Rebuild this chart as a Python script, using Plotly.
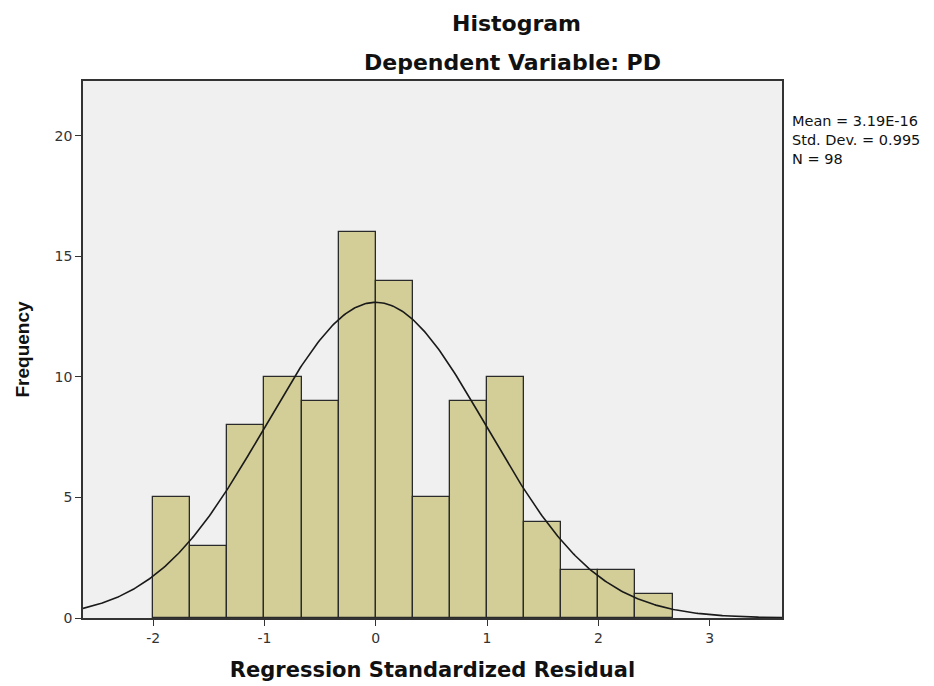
import numpy as np
import plotly.graph_objects as go

# histogram bins (left edges) and counts
bin_left = [-2.0, -5/3, -4/3, -1.0, -2/3, -1/3, 0.0, 1/3, 2/3, 1.0, 4/3, 5/3, 2.0, 7/3]
counts = [5, 3, 8, 10, 9, 16, 14, 5, 9, 10, 4, 2, 2, 1]
bin_width = 1/3

# summary stats shown on the chart
mean = 3.19e-16
std = 0.995
n = 98

x_ticks = [-2, -1, 0, 1, 2, 3]
x_labels = ['-2', '-1', '0', '1', '2', '3']
y_ticks = [0, 5, 10, 15, 20]

centers = [b + bin_width / 2 for b in bin_left]

# fitted normal curve scaled to the histogram
xs = np.linspace(-2.63, 3.65, 400)
ys = n * bin_width * np.exp(-0.5 * ((xs - mean) / std) ** 2) / (std * np.sqrt(2 * np.pi))

fig = go.Figure()
fig.add_trace(go.Bar(x=centers, y=counts, width=bin_width,
                     marker=dict(color='#D3CE98', line=dict(color='#2a2a2a', width=1.3)),
                     showlegend=False))
fig.add_trace(go.Scatter(x=xs, y=ys, mode='lines',
                         line=dict(color='#1a1a1a', width=1.6), showlegend=False))

wide = 'DejaVu Sans, Verdana, sans-serif'
arial = 'Liberation Sans, Arial, sans-serif'
fig.update_layout(
    width=934, height=686,
    margin=dict(l=75, r=160, t=73, b=76),
    paper_bgcolor='white', plot_bgcolor='#F0F0F0',
    bargap=0,
    font=dict(family=wide, color='#333333', size=14),
    xaxis=dict(range=[-2.63, 3.65], tickvals=x_ticks, ticktext=x_labels, ticks='outside', ticklen=6,
               tickcolor='#333', showgrid=False, zeroline=False,
               showline=True, linecolor='#333', linewidth=1.5, mirror=True,
               title=dict(text='<b>Regression Standardized Residual</b>',
                          font=dict(family=wide, size=21, color='#111'), standoff=18)),
    yaxis=dict(range=[0, 22.28], tickvals=y_ticks, ticks='outside', ticklen=6,
               tickcolor='#333', showgrid=False, zeroline=False,
               showline=True, linecolor='#333', linewidth=1.5, mirror=True,
               title=dict(text='<b>Frequency</b>', font=dict(family=arial, size=19, color='#111'),
                          standoff=20)),
    annotations=[
        dict(text='<b>Histogram</b>', xref='paper', yref='paper', x=0.62, y=1.0,
             yanchor='middle', yshift=58, showarrow=False,
             font=dict(family=wide, size=22, color='#111')),
        dict(text='<b>Dependent Variable: PD</b>', xref='paper', yref='paper', x=0.615, y=1.0,
             yanchor='middle', yshift=19, showarrow=False,
             font=dict(family=wide, size=22, color='#111')),
        dict(text='Mean = 3.19E-16<br>Std. Dev. = 0.995<br>N = 98', xref='paper', yref='paper',
             x=1.011, y=0.944, xanchor='left', yanchor='top', align='left', showarrow=False,
             font=dict(family=wide, size=14.5, color='#111')),
    ],
)

fig.write_html("out.html")
